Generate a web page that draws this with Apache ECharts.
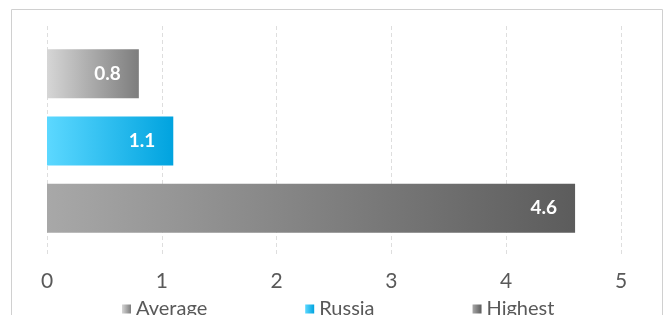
<!DOCTYPE html>
<html lang="en">
<head>
    <meta charset="UTF-8">
    <title>Bar comparison</title>
    <script src="https://cdn.jsdelivr.net/npm/echarts@6/dist/echarts.min.js"></script>
    <style>
        body {
            margin: 0;
            padding: 0;
            background: #fff;
        }
        #main {
            width: 664px;
            height: 315px;
        }
    </style>
</head>
<body>
    <div id="main"></div>

    <script>
        // data
        const seriesNames = ['Average', 'Russia', 'Highest'];
        const seriesValues = [0.8, 1.1, 4.6];
        const xTicks = [0, 5, 1];   // min, max, interval

        // gradient stops per series (left -> right)
        const colorStops = [
            ['#d6d6d6', '#7d7d7d'],
            ['#5cd8ff', '#00a3df'],
            ['#a8a8a8', '#5c5c5c']
        ];

        function grad(c) {
            return new echarts.graphic.LinearGradient(0, 0, 1, 0, [
                { offset: 0, color: c[0] },
                { offset: 1, color: c[1] }
            ]);
        }

        var chartDom = document.getElementById('main');
        var myChart = echarts.init(chartDom);

        var series = seriesNames.map(function (name, i) {
            return {
                name: name,
                type: 'bar',
                barWidth: 49,
                barGap: '37%',
                data: [seriesValues[i]],
                itemStyle: { color: grad(colorStops[i]) },
                label: {
                    show: true,
                    position: 'insideRight',
                    distance: 18,
                    color: '#fff',
                    fontFamily: 'Lato',
                    fontWeight: 'bold',
                    fontSize: 19,
                    formatter: function (p) { return p.value.toFixed(1); }
                }
            };
        });

        var option = {
            animation: false,
            graphic: [{
                type: 'rect',
                shape: { x: 11.5, y: 9.5, width: 651, height: 330 },
                style: { fill: 'none', stroke: '#d0d0d0', lineWidth: 1 },
                silent: true
            }],
            grid: {
                left: 47,
                right: 43,
                top: 26,
                bottom: 59
            },
            legend: {
                data: seriesNames,
                left: 117,
                top: 294,
                itemWidth: 9,
                itemHeight: 9,
                itemGap: 98,
                icon: 'rect',
                textStyle: {
                    color: '#595959',
                    fontFamily: 'Lato',
                    fontSize: 20
                }
            },
            xAxis: {
                type: 'value',
                min: xTicks[0],
                max: xTicks[1],
                interval: xTicks[2],
                axisLine: { show: false },
                axisTick: { show: false },
                splitLine: {
                    show: true,
                    lineStyle: { color: '#dedede', type: [4, 3], width: 1 }
                },
                axisLabel: {
                    color: '#595959',
                    fontFamily: 'Lato',
                    fontSize: 21,
                    margin: 15
                }
            },
            yAxis: {
                type: 'category',
                data: [''],
                axisLine: { show: false },
                axisTick: { show: false },
                axisLabel: { show: false }
            },
            series: series
        };

        option && myChart.setOption(option);
    </script>
</body>
</html>
